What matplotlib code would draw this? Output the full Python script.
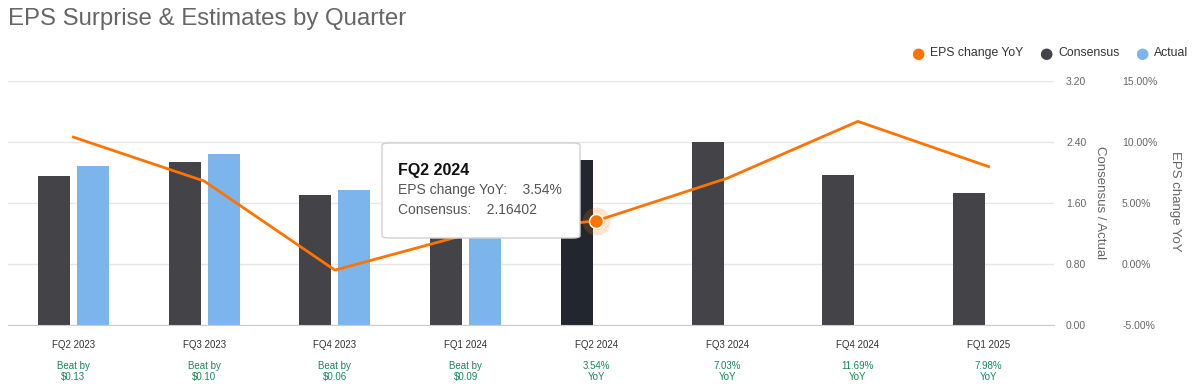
import matplotlib.pyplot as plt
from matplotlib.patches import FancyBboxPatch

plt.rcParams['font.family'] = ['Liberation Sans', 'DejaVu Sans']

# Data
quarters = ['FQ2 2023', 'FQ3 2023', 'FQ4 2023', 'FQ1 2024',
            'FQ2 2024', 'FQ3 2024', 'FQ4 2024', 'FQ1 2025']
consensus = [1.95, 2.14, 1.71, 1.85, 2.16402, 2.40, 1.97, 1.73]
actual = [2.08, 2.24, 1.77, 1.94, None, None, None, None]
eps_yoy = [10.4, 6.8, -0.5, 2.4, 3.54, 7.03, 11.69, 7.98]
sub_top = ['Beat by', 'Beat by', 'Beat by', 'Beat by', '3.54%', '7.03%', '11.69%', '7.98%']
sub_bottom = ['$0.13', '$0.10', '$0.06', '$0.09', 'YoY', 'YoY', 'YoY', 'YoY']
left_ticks = [0, 0.8, 1.6, 2.4, 3.2]
right_ticks = [-5, 0, 5, 10, 15]
hover = 4  # index of the highlighted quarter

c_cons = '#434348'
c_cons_hover = '#22272f'
c_act = '#7cb5ec'
c_line = '#ff7300'
c_green = '#17855a'
c_text = '#666666'

fig = plt.figure(figsize=(11.92, 3.89), dpi=100)
ax = fig.add_axes([8 / 1192, 64 / 389, 1046 / 1192, 244 / 389])
ax2 = ax.twinx()

x = list(range(len(quarters)))
w = 0.245
off = 0.149
for i, c in enumerate(consensus):
    col = c_cons_hover if i == hover else c_cons
    ax.bar(i - off, c, width=w, color=col, zorder=2)
    if actual[i] is not None:
        ax.bar(i + off, actual[i], width=w, color=c_act, zorder=2)

ax.set_xlim(-0.5, len(quarters) - 0.5)
ax.set_ylim(0, 3.2)
ax.set_yticks(left_ticks)
ax.set_yticklabels([f'{t:.2f}' for t in left_ticks])
ax.yaxis.tick_right()
ax.grid(axis='y', color='#e6e6e6', linewidth=1, zorder=0)
ax.set_xticks([])
for s in ['top', 'left', 'right']:
    ax.spines[s].set_visible(False)
ax.spines['bottom'].set_color('#cccccc')
ax.tick_params(axis='y', length=0, pad=8.6, labelsize=7.5, labelcolor=c_text)

ax2.plot(x, eps_yoy, color=c_line, linewidth=2, zorder=3)
ax2.plot([hover], [eps_yoy[hover]], 'o', color=c_line, markersize=20, alpha=0.2,
         markeredgewidth=0, zorder=4)
ax2.plot([hover], [eps_yoy[hover]], 'o', color=c_line, markersize=10,
         markeredgecolor='white', markeredgewidth=1, zorder=5)
ax2.set_ylim(-5, 15)
ax2.set_yticks(right_ticks)
ax2.set_yticklabels([f'{t:.2f}%' for t in right_ticks])
ax2.tick_params(axis='y', length=0, pad=49, labelsize=7.5, labelcolor=c_text)
for s in ax2.spines.values():
    s.set_visible(False)

fig.text(1100 / 1192, 1 - 203 / 389, 'Consensus / Actual', rotation=270,
         ha='center', va='center', fontsize=9.5, color=c_text)
fig.text(1175 / 1192, 1 - 201 / 389, 'EPS change YoY', rotation=270,
         ha='center', va='center', fontsize=9.5, color=c_text)

# category labels
for i, q in enumerate(quarters):
    ax.annotate(q, (i, 0), xycoords=('data', 'axes fraction'), xytext=(0, -14.4),
                textcoords='offset points', ha='center', va='center',
                fontsize=7, color='#333333')
    ax.annotate(sub_top[i], (i, 0), xycoords=('data', 'axes fraction'), xytext=(0, -29.5),
                textcoords='offset points', ha='center', va='center',
                fontsize=7, color=c_green)
    ax.annotate(sub_bottom[i], (i, 0), xycoords=('data', 'axes fraction'), xytext=(0, -37.5),
                textcoords='offset points', ha='center', va='center',
                fontsize=7, color=c_green)

# title
fig.text(8 / 1192, 1 - 19 / 389, 'EPS Surprise & Estimates by Quarter',
         ha='left', va='center', fontsize=17.3, color=c_text)

# legend
legend_items = [('EPS change YoY', c_line, 918), ('Consensus', c_cons, 1046), ('Actual', c_act, 1142)]
for label, col, px in legend_items:
    fig.text(px / 1192, 1 - 53 / 389, '\u25CF', ha='center', va='center',
             fontsize=11, color=col, family='DejaVu Sans')
    fig.text((px + 12) / 1192, 1 - 53 / 389, label, ha='left', va='center',
             fontsize=8.8, color='#333333')

# tooltip
tip = FancyBboxPatch((382 / 1192, 1 - 238 / 389), 198 / 1192, 95 / 389,
                     boxstyle='round,pad=0,rounding_size=0.006',
                     transform=fig.transFigure, facecolor='white',
                     edgecolor='#d0d0d0', linewidth=1, zorder=10)
fig.add_artist(tip)
fig.text(398 / 1192, 1 - 170 / 389, quarters[hover], ha='left', va='center',
         fontsize=11.5, fontweight='bold', color='#111111', zorder=11)
fig.text(398 / 1192, 1 - 190 / 389, f'EPS change YoY:    {eps_yoy[hover]:.2f}%',
         ha='left', va='center', fontsize=10, color='#555555', zorder=11)
fig.text(398 / 1192, 1 - 210 / 389, f'Consensus:    {consensus[hover]:.5f}',
         ha='left', va='center', fontsize=10, color='#555555', zorder=11)

fig.savefig('out.png', dpi=100)
